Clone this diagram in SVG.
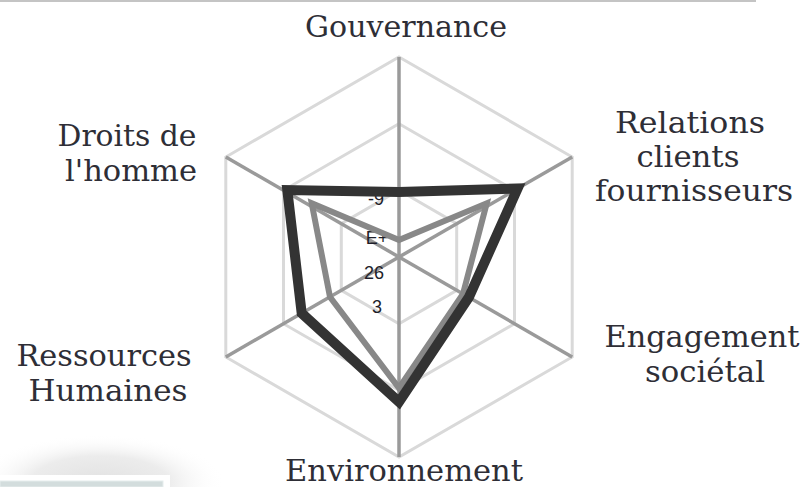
<svg xmlns="http://www.w3.org/2000/svg" width="805" height="487" viewBox="0 0 805 487">
<defs>
<radialGradient id="shadow" cx="100" cy="482" r="125" gradientUnits="userSpaceOnUse" gradientTransform="translate(100 482) scale(1 0.38) translate(-100 -482)">
<stop offset="0" stop-color="#e2e2e2"/>
<stop offset="0.55" stop-color="#ececec"/>
<stop offset="1" stop-color="#ffffff" stop-opacity="0"/>
</radialGradient>
<style>
.lbl{font-family:"DejaVu Serif","Liberation Serif",serif;font-size:29px;fill:#2e2e36;text-anchor:middle}
.tick{font-family:"Liberation Sans",Arial,sans-serif;font-size:18px;fill:#1e1e2a;text-anchor:middle}
.ring{fill:none;stroke:#d9d9d9;stroke-width:3}
.spoke{stroke:#9a9a9a;stroke-width:3.5}
.s1{fill:none;stroke:#333;stroke-width:10;stroke-linejoin:miter}
.s2{fill:none;stroke:#888;stroke-width:6;stroke-linejoin:miter}
</style>
</defs>
<rect width="805" height="487" fill="#fff"/>
<line x1="0" y1="1" x2="756" y2="1" stroke="#c4c4c4" stroke-width="2"/>
<g id="shadow-box">
<rect x="0" y="425" width="240" height="62" fill="url(#shadow)"/>
<rect x="0" y="475" width="170" height="12" fill="#fff"/>
<rect x="0" y="481" width="163" height="6" fill="#d3dddd" stroke="#e6eded" stroke-width="1"/>
</g>
<g id="grid">
<polygon class="ring" points="399,190.3 456.7,223.7 456.7,290.3 399,323.7 341.3,290.3 341.3,223.7"/>
<polygon class="ring" points="399,123.7 514.5,190.3 514.5,323.7 399,390.3 283.5,323.7 283.5,190.3"/>
<polygon class="ring" points="399,57 572.2,157 572.2,357 399,457 225.8,357 225.8,157"/>
<line class="spoke" x1="399" y1="257" x2="399" y2="57"/>
<line class="spoke" x1="399" y1="257" x2="572.2" y2="157"/>
<line class="spoke" x1="399" y1="257" x2="572.2" y2="357"/>
<line class="spoke" x1="399" y1="257" x2="399" y2="457"/>
<line class="spoke" x1="399" y1="257" x2="225.8" y2="357"/>
<line class="spoke" x1="399" y1="257" x2="225.8" y2="157"/>
</g>
<g id="ticks">
<text class="tick" x="376" y="205">-9</text>
<text class="tick" x="377" y="244">E+</text>
<text class="tick" x="374" y="279">26</text>
<text class="tick" x="377" y="313">3</text>
</g>
<g id="series">
<polygon class="s2" points="399,240 486.7,203.3 463,294 399,388 330,297 311.7,203.3"/>
<polygon class="s1" points="399,192 517.6,188.5 469,297 399,402 301.7,313.3 287.3,190"/>
</g>
<g id="label-gouvernance"><text class="lbl" x="406" y="37" textLength="202" lengthAdjust="spacingAndGlyphs">Gouvernance</text></g>
<g id="label-relations">
<text class="lbl" x="690" y="133" textLength="150" lengthAdjust="spacingAndGlyphs">Relations</text>
<text class="lbl" x="688" y="167" textLength="103" lengthAdjust="spacingAndGlyphs">clients</text>
<text class="lbl" x="694" y="201" textLength="198" lengthAdjust="spacingAndGlyphs">fournisseurs</text>
</g>
<g id="label-engagement">
<text class="lbl" x="702" y="347" textLength="195" lengthAdjust="spacingAndGlyphs">Engagement</text>
<text class="lbl" x="705" y="382" textLength="120" lengthAdjust="spacingAndGlyphs">sociétal</text>
</g>
<g id="label-environnement"><text class="lbl" x="404" y="481" textLength="238" lengthAdjust="spacingAndGlyphs">Environnement</text></g>
<g id="label-ressources">
<text class="lbl" x="104" y="366" textLength="175" lengthAdjust="spacingAndGlyphs">Ressources</text>
<text class="lbl" x="108" y="401" textLength="159" lengthAdjust="spacingAndGlyphs">Humaines</text>
</g>
<g id="label-droits">
<text class="lbl" x="127" y="146" textLength="139" lengthAdjust="spacingAndGlyphs">Droits de</text>
<text class="lbl" x="131" y="181" textLength="132" lengthAdjust="spacingAndGlyphs">l'homme</text>
</g>
</svg>
